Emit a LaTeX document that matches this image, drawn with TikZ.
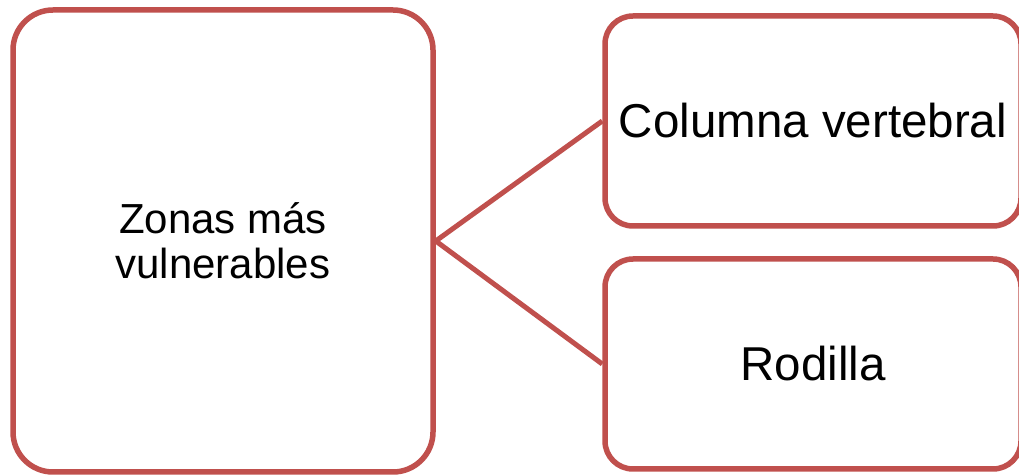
\documentclass[tikz,border=0pt]{standalone}
\usepackage{fontspec}
\setmainfont{Liberation Sans}
\definecolor{boxred}{HTML}{C0504D}
\begin{document}
\begin{tikzpicture}[x=1pt,y=1pt,
  box/.style={draw=boxred, line width=5.5pt, fill=white, align=center, inner sep=0pt},
  bigbox/.style={box, rounded corners=40pt, minimum width=420pt, minimum height=462pt, font=\fontsize{42}{45}\selectfont},
  smallbox/.style={box, rounded corners=28pt, minimum width=416pt, minimum height=210pt, font=\fontsize{47.5}{50}\selectfont},
  link/.style={draw=boxred, line width=5pt}]
\useasboundingbox (0,0) rectangle (1019,476);
\node[bigbox] (main) at (223,235) {Zonas más\\vulnerables};
\node[smallbox] (top) at (813,355) {Columna vertebral};
\node[smallbox] (bot) at (813,112) {Rodilla};
\draw[link] (main.east) -- (top.west);
\draw[link] (main.east) -- (bot.west);
\end{tikzpicture}
\end{document}
